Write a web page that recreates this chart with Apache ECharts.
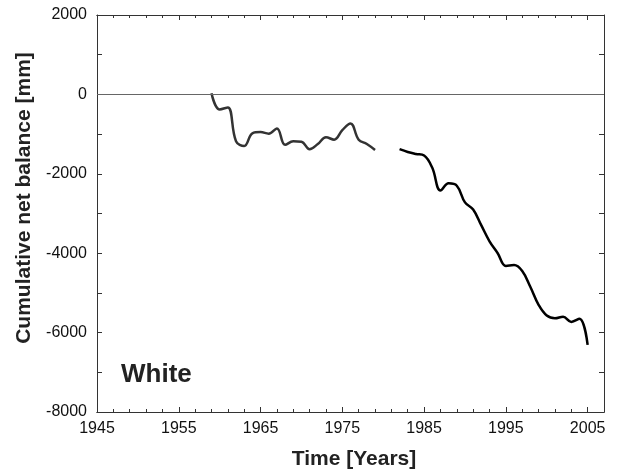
<!DOCTYPE html>
<html>
<head>
<meta charset="utf-8">
<script src="https://cdn.jsdelivr.net/npm/echarts@6/dist/echarts.min.js"></script>
<style>
html,body{margin:0;padding:0;background:#fff;}
#chart{width:619px;height:474px;}
</style>
</head>
<body>
<div id="chart"></div>
<script>
// Data
const years1 = [1959,1960,1961,1962,1963,1964,1965,1966,1967,1968,1969,1970,1971,1972,1973,1974,1975,1976,1977,1978,1979];
const values1 = [30,-380,-330,-1180,-1300,-980,-950,-990,-860,-1270,-1180,-1190,-1380,-1250,-1080,-1140,-900,-730,-1140,-1250,-1400];
const years2 = [1982,1983,1984,1985,1986,1987,1988,1989,1990,1991,1992,1993,1994,1995,1996,1997,1998,1999,2000,2001,2002,2003,2004,2005];
const values2 = [-1380,-1450,-1500,-1540,-1850,-2420,-2240,-2300,-2720,-2900,-3300,-3700,-4000,-4320,-4300,-4450,-4850,-5300,-5570,-5640,-5600,-5730,-5650,-6310];
const xMin = 1945, xMax = 2007, xStep = 10, xMinorStep = 2;
const yMin = -8000, yMax = 2000, yStep = 2000;
const xTitle = 'Time [Years]';
const yTitle = 'Cumulative net balance [mm]';
const label = 'White';

const s1 = years1.map((y,i)=>[y, values1[i]]);
const s2 = years2.map((y,i)=>[y, values2[i]]);

const frameColor = '#333';
const labelFont = {fontFamily:'Liberation Sans, Arial, sans-serif', fontSize:16, color:'#111', formatter:function(v){return String(v);}};

function xAx(opts){
  return Object.assign({
    type:'value', min:xMin, max:xMax, gridIndex:0,
    axisLine:{show:true, onZero:false, lineStyle:{color:frameColor, width:1}},
    splitLine:{show:false},
  }, opts);
}
function yAx(opts){
  return Object.assign({
    type:'value', min:yMin, max:yMax, interval:yStep, gridIndex:0,
    axisLine:{show:true, onZero:false, lineStyle:{color:frameColor, width:1}},
    splitLine:{show:false},
    minorTick:{show:true, splitNumber:2, length:5, lineStyle:{color:frameColor}},
    axisTick:{show:true, inside:true, length:5, lineStyle:{color:frameColor}},
  }, opts);
}

const chart = echarts.init(document.getElementById('chart'), null, {renderer:'canvas'});
chart.setOption({
  animation:false,
  backgroundColor:'#fff',
  grid:{left:97, right:15, top:15, bottom:62},
  xAxis:[
    xAx({position:'bottom', interval:xStep,
      axisTick:{show:true, inside:true, length:5, lineStyle:{color:frameColor}},
      axisLabel:Object.assign({show:true, margin:9, showMaxLabel:false}, labelFont)}),
    xAx({position:'bottom', interval:xMinorStep,
      axisTick:{show:true, inside:true, length:3, lineStyle:{color:frameColor}},
      axisLabel:{show:false}}),
    xAx({position:'top', interval:xStep,
      axisTick:{show:true, inside:true, length:5, lineStyle:{color:frameColor}},
      axisLabel:{show:false}}),
    xAx({position:'top', interval:xMinorStep,
      axisTick:{show:true, inside:true, length:3, lineStyle:{color:frameColor}},
      axisLabel:{show:false}})
  ],
  yAxis:[
    yAx({position:'left',
      axisLabel:Object.assign({show:true, margin:10}, labelFont)}),
    yAx({position:'right', axisLabel:{show:false}})
  ],
  graphic:[
    {type:'text', left:121, top:362, style:{text:label, font:'bold 26px Liberation Sans, Arial, sans-serif', fill:'#222'}},
    {type:'text', x:354, y:459, style:{text:xTitle, font:'bold 21px Liberation Sans, Arial, sans-serif', fill:'#222', align:'center', verticalAlign:'middle'}},
    {type:'text', x:24, y:198, rotation:Math.PI/2, style:{text:yTitle, font:'bold 21px Liberation Sans, Arial, sans-serif', fill:'#222', align:'center', verticalAlign:'middle'}}
  ],
  series:[
    {type:'line', data:s1, xAxisIndex:0, yAxisIndex:0, smooth:0.4, showSymbol:false, symbol:'none',
     lineStyle:{color:'#333', width:2.5}, z:3,
     markLine:{silent:true, symbol:'none', label:{show:false}, lineStyle:{color:'#666', width:1, type:'solid'},
       data:[{yAxis:0}]}},
    {type:'line', data:s2, xAxisIndex:0, yAxisIndex:0, smooth:0.4, showSymbol:false, symbol:'none',
     lineStyle:{color:'#000', width:2.5}, z:3}
  ]
});
</script>
</body>
</html>
